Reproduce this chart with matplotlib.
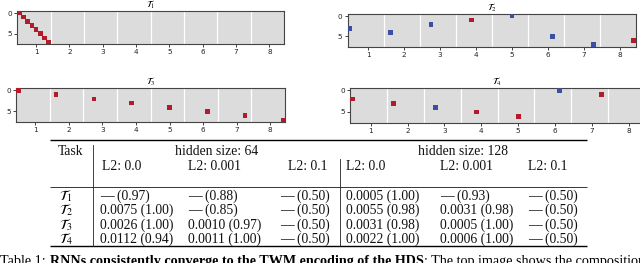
import matplotlib
matplotlib.use("Agg")
import matplotlib.pyplot as plt

plt.rcParams['mathtext.fontset'] = 'stix'

# ---------------- data ----------------
task_names = [r'$\mathcal{T}_1$', r'$\mathcal{T}_2$', r'$\mathcal{T}_3$', r'$\mathcal{T}_4$']

# cell column index (0..63), row index (0..7) and sign (+1 red, -1 blue)
t1_cols = [0, 1, 2, 3, 4, 5, 6, 7]
t1_rows = [0, 1, 2, 3, 4, 5, 6, 7]
t1_sign = [1, 1, 1, 1, 1, 1, 1, 1]

t2_cols = [0, 9, 18, 27, 36, 45, 54, 63]
t2_rows = [3, 4, 2, 1, 0, 5, 7, 6]
t2_sign = [-1, -1, -1, 1, -1, -1, -1, 1]

t3_cols = [0, 9, 18, 27, 36, 45, 54, 63]
t3_rows = [0, 1, 2, 3, 4, 5, 6, 7]
t3_sign = [1, 1, 1, 1, 1, 1, 1, 1]

t4_cols = [0, 9, 18, 27, 36, 45, 54, 63]
t4_rows = [2, 3, 4, 5, 6, 0, 1, 7]
t4_sign = [1, 1, -1, 1, 1, -1, 1, -1]

x_ticks = [1, 2, 3, 4, 5, 6, 7, 8]
y_ticks = [0, 5]

hidden_sizes = [64, 128]
l2_labels = ['L2: 0.0', 'L2: 0.001', 'L2: 0.1']
mse_h64 = [[None, None, None], [0.0075, None, None], [0.0026, 0.0010, None], [0.0112, 0.0011, None]]
acc_h64 = [[0.97, 0.88, 0.50], [1.00, 0.85, 0.50], [1.00, 0.97, 0.50], [0.94, 1.00, 0.50]]
mse_h128 = [[0.0005, None, None], [0.0055, 0.0031, None], [0.0031, 0.0005, None], [0.0022, 0.0006, None]]
acc_h128 = [[1.00, 0.93, 0.50], [0.98, 0.98, 0.50], [0.98, 1.00, 0.50], [1.00, 1.00, 0.50]]

# ---------------- figure ----------------
W, H = 640, 263
fig = plt.figure(figsize=(W / 100, H / 100), dpi=100)

RED = '#b31b2b'
BLUE = '#3a4ea3'
BG = '#dcdcdc'


def px_rect(l, t, r, b):
    return [l / W, 1 - b / H, (r - l) / W, (b - t) / H]


panels = [
    (px_rect(17.3, 11, 284, 44), t1_cols, t1_rows, t1_sign, 0),
    (px_rect(347.7, 14, 636, 46.7), t2_cols, t2_rows, t2_sign, 1),
    (px_rect(16.3, 88.3, 285, 122), t3_cols, t3_rows, t3_sign, 2),
    (px_rect(350, 88.3, 645, 122.7), t4_cols, t4_rows, t4_sign, 3),
]

x0 = 0.4375
cw = 1 / 8
for rect, cols, rows, signs, k in panels:
    ax = fig.add_axes(rect)
    ax.set_facecolor(BG)
    ax.set_xlim(x0, x0 + 8)
    ax.set_ylim(7.5, -0.5)
    for g in range(1, 8):
        ax.axvline(x0 + g, color='white', lw=0.9, zorder=1)
    xs = [x0 + (c + 0.5) * cw for c in cols]
    cs = [RED if s > 0 else BLUE for s in signs]
    ax.scatter(xs, rows, marker='s', s=11, c=cs, linewidths=0, zorder=3, clip_on=True)
    ax.set_xticks(x_ticks)
    ax.set_yticks(y_ticks)
    ax.tick_params(labelsize=5.2, length=2.2, width=0.6, pad=1.5, colors='#222222')
    for sp in ax.spines.values():
        sp.set_color('#444444')
        sp.set_linewidth(0.8)
    ax.set_title(task_names[k], fontsize=6.8, pad=0.3)

# ---------------- table ----------------
tax = fig.add_axes([0, 0, 1, 1])
tax.set_xlim(0, W)
tax.set_ylim(H, 0)
tax.axis('off')

FS = 9.8
serif = 'Liberation Serif'
tkw = dict(fontsize=FS, family=serif, va='center', color='#111111')

TL, TR = 50, 587
tax.plot([TL, TR], [139.5, 139.5], color='black', lw=1.0, solid_capstyle='butt')
tax.plot([TL, TR], [186.8, 186.8], color='black', lw=0.55, solid_capstyle='butt')
tax.plot([TL, TR], [245.8, 245.8], color='black', lw=1.0, solid_capstyle='butt')
tax.plot([93.3, 93.3], [145, 245.8], color='#222222', lw=0.6)
tax.plot([339.5, 339.5], [158.5, 245.8], color='#222222', lw=0.6)

tax.text(58, 151.5, 'Task', ha='left', **tkw)
tax.text(216.7, 151.5, f'hidden size: {hidden_sizes[0]}', ha='center', **tkw)
tax.text(463, 151.5, f'hidden size: {hidden_sizes[1]}', ha='center', **tkw)

col_x = [100, 188, 280, 346.5, 440, 528]
hdr_x = [101.5, 188, 288, 346.5, 440, 528]
for j, lab in enumerate(l2_labels * 2):
    tax.text(hdr_x[j], 166.7, lab, ha='left', **tkw)


def cell(m, a):
    return ('\u2014' if m is None else f'{m:.4f}') + f' ({a:.2f})'


row_y = [195.8, 210.5, 225.2, 239.5]
for i in range(4):
    tax.text(59, row_y[i], task_names[i], ha='left', fontsize=FS + 0.5, va='center')
    vals = [cell(mse_h64[i][j], acc_h64[i][j]) for j in range(3)] + \
           [cell(mse_h128[i][j], acc_h128[i][j]) for j in range(3)]
    for j, v in enumerate(vals):
        tax.text(col_x[j], row_y[i], v, ha='left', **tkw)

# caption (partially cut off at bottom, as in the reference)
cfs = 10.2
cy = 255.0
fig.canvas.draw()
r = fig.canvas.get_renderer()
t1 = tax.text(0.5, cy, 'Table 1: ', ha='left', va='top', fontsize=cfs, family=serif)
fig.canvas.draw()
bb = t1.get_window_extent(r)
t2 = tax.text(bb.x1, cy, 'RNNs consistently converge to the TWM encoding of the HDS', ha='left',
              va='top', fontsize=cfs, family=serif, fontweight='bold')
fig.canvas.draw()
bb2 = t2.get_window_extent(r)
tax.text(bb2.x1, cy, ': The top image shows the composition', ha='left', va='top',
         fontsize=cfs, family=serif)

fig.savefig('out.png', dpi=100)
